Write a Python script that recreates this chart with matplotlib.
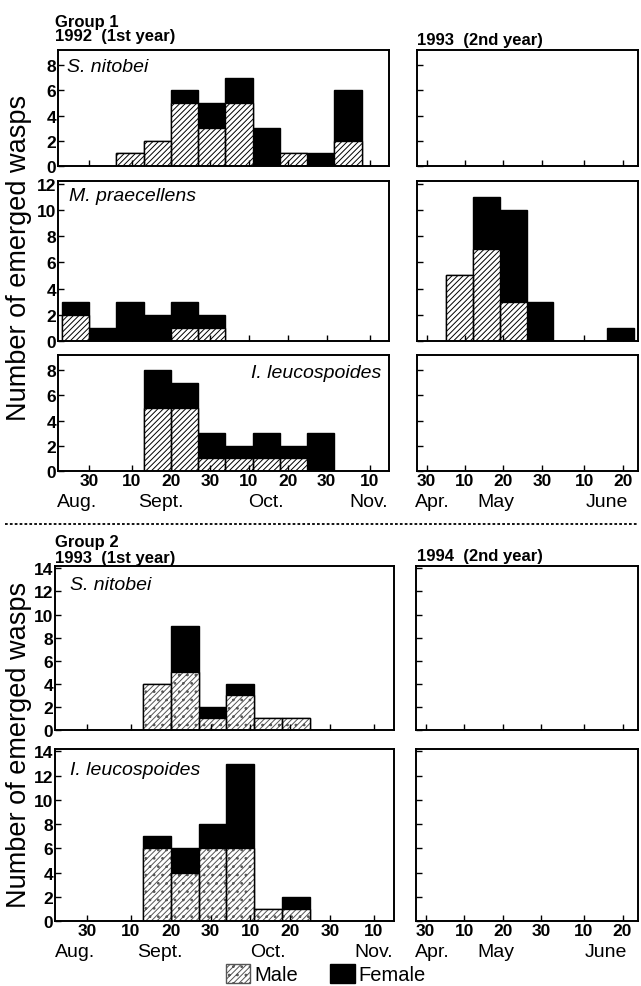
import matplotlib
matplotlib.use("Agg")
import matplotlib.pyplot as plt
from matplotlib.patches import Patch
from matplotlib.lines import Line2D

plt.rcParams['font.family'] = ['Liberation Sans', 'DejaVu Sans']
plt.rcParams['hatch.linewidth'] = 0.7

# x = days after Aug 30 (1st year) or after Apr 30 (2nd year), bars are 7-day bins
g1_nit_days = [7, 14, 21, 28, 35, 42, 49, 56, 63]
g1_nit_male = [1, 2, 5, 3, 5, 0, 1, 0, 2]
g1_nit_female = [0, 0, 1, 2, 2, 3, 0, 1, 4]

g1_mpr_days = [-7, 0, 7, 14, 21, 28]
g1_mpr_male = [2, 0, 0, 0, 1, 1]
g1_mpr_female = [1, 1, 3, 2, 2, 1]

g1_mpr2_days = [5, 12, 19, 26, 47]
g1_mpr2_male = [5, 7, 3, 0, 0]
g1_mpr2_female = [0, 4, 7, 3, 1]

g1_leu_days = [14, 21, 28, 35, 42, 49, 56]
g1_leu_male = [5, 5, 1, 1, 1, 1, 0]
g1_leu_female = [3, 2, 2, 1, 2, 1, 3]

g2_nit_days = [14, 21, 28, 35, 42, 49]
g2_nit_male = [4, 5, 1, 3, 1, 1]
g2_nit_female = [0, 4, 1, 1, 0, 0]

g2_leu_days = [14, 21, 28, 35, 42, 49]
g2_leu_male = [6, 4, 6, 6, 1, 1]
g2_leu_female = [1, 2, 2, 7, 0, 1]

autumn_ticks = [0, 11, 21, 31, 41, 51, 61, 72]
autumn_labels = ['30', '10', '20', '30', '10', '20', '30', '10']
autumn_months = [(-3, 'Aug.'), (18.3, 'Sept.'), (45.4, 'Oct.'), (71.8, 'Nov.')]
spring_ticks = [0, 10, 20, 30, 41, 51]
spring_labels = ['30', '10', '20', '30', '10', '20']
spring_months = [(1.6, 'Apr.'), (18.1, 'May'), (46.8, 'June')]

W, H = 641, 987
fig = plt.figure(figsize=(W / 100, H / 100), dpi=100)


def box(x0, x1, y0, y1):
    return fig.add_axes([x0 / W, 1 - y1 / H, (x1 - x0) / W, (y1 - y0) / H])


def style(ax, ymax, yticks, autumn, ylab, xlab):
    ax.set_ylim(0, ymax)
    if autumn:
        ax.set_xlim(-8, 77)
        ax.set_xticks(autumn_ticks)
        labs, months = autumn_labels, autumn_months
    else:
        ax.set_xlim(-2.5, 55)
        ax.set_xticks(spring_ticks)
        labs, months = spring_labels, spring_months
    ax.set_yticks(yticks)
    ax.tick_params(direction='in', length=4, width=1, labelsize=12.5, pad=1.5)
    for s in ax.spines.values():
        s.set_linewidth(1.4)
    if ylab:
        ax.set_yticklabels([str(v) for v in yticks], fontweight='bold')
    else:
        ax.set_yticklabels([])
    if xlab:
        ax.set_xticklabels(labs, fontweight='bold')
        for d, m in months:
            ax.annotate(m, xy=(d, 0), xycoords=('data', 'axes fraction'), xytext=(0, -16),
                        textcoords='offset points', ha='center', va='top', fontsize=14)
    else:
        ax.set_xticklabels([])


def bars(ax, days, male, female, group2=False):
    tot = [m + f for m, f in zip(male, female)]
    ax.bar(days, tot, width=7, align='edge', color='black', edgecolor='black', lw=1)
    if group2:
        ax.bar(days, male, width=7, align='edge', color='white', edgecolor='#555555',
               hatch='//////..', lw=0)
    else:
        ax.bar(days, male, width=7, align='edge', color='white', edgecolor='black',
               hatch='//////', lw=0)
    ax.bar(days, male, width=7, align='edge', fill=False, edgecolor='black', lw=1)


def species(ax, x, y, name, ha='left'):
    ax.text(x, y, name, transform=ax.transAxes, ha=ha, va='center', style='italic', fontsize=14)


# Group 1
a = box(58, 389, 51, 167)
bars(a, g1_nit_days, g1_nit_male, g1_nit_female)
style(a, 9.2, [0, 2, 4, 6, 8], True, True, False)
species(a, 0.026, 0.86, 'S. nitobei')
b = box(417, 638, 51, 167)
style(b, 9.2, [0, 2, 4, 6, 8], False, False, False)

a = box(58, 389, 182, 342)
bars(a, g1_mpr_days, g1_mpr_male, g1_mpr_female)
style(a, 12.2, [0, 2, 4, 6, 8, 10, 12], True, True, False)
species(a, 0.033, 0.91, 'M. praecellens')
b = box(417, 638, 182, 342)
bars(b, g1_mpr2_days, g1_mpr2_male, g1_mpr2_female)
style(b, 12.2, [0, 2, 4, 6, 8, 10, 12], False, False, False)

a = box(58, 389, 356, 472)
bars(a, g1_leu_days, g1_leu_male, g1_leu_female)
style(a, 9.2, [0, 2, 4, 6, 8], True, True, True)
species(a, 0.978, 0.85, 'I. leucospoides', ha='right')
b = box(417, 638, 356, 472)
style(b, 9.2, [0, 2, 4, 6, 8], False, False, True)

# Group 2
a = box(55, 394, 567, 731)
bars(a, g2_nit_days, g2_nit_male, g2_nit_female, True)
style(a, 14.2, list(range(0, 15, 2)), True, True, False)
species(a, 0.044, 0.89, 'S. nitobei')
b = box(416, 638, 567, 731)
style(b, 14.2, list(range(0, 15, 2)), False, False, False)

a = box(55, 394, 750, 922)
bars(a, g2_leu_days, g2_leu_male, g2_leu_female, True)
style(a, 14.2, list(range(0, 15, 2)), True, True, True)
species(a, 0.044, 0.88, 'I. leucospoides')
b = box(416, 638, 750, 922)
style(b, 14.2, list(range(0, 15, 2)), False, False, True)

# headers
hdr = dict(ha='left', va='center', fontsize=12, fontweight='bold')
fig.text(55 / W, 1 - 22 / H, 'Group 1', **hdr)
fig.text(55 / W, 1 - 37 / H, '1992  (1st year)', **hdr)
fig.text(417 / W, 1 - 40 / H, '1993  (2nd year)', **hdr)
fig.text(55 / W, 1 - 542 / H, 'Group 2', **hdr)
fig.text(55 / W, 1 - 558 / H, '1993  (1st year)', **hdr)
fig.text(417 / W, 1 - 556 / H, '1994  (2nd year)', **hdr)

fig.text(19 / W, 1 - 258 / H, 'Number of emerged wasps', rotation=90, ha='center', va='center', fontsize=19.5)
fig.text(19 / W, 1 - 745 / H, 'Number of emerged wasps', rotation=90, ha='center', va='center', fontsize=19.5)

fig.add_artist(Line2D([5 / W, 638 / W], [1 - 525 / H] * 2, transform=fig.transFigure,
                      ls=(0, (1.5, 1.2)), lw=1.3, color='black'))

handles = [Patch(facecolor='white', edgecolor='#555555', hatch='//////..', lw=1),
           Patch(facecolor='black', edgecolor='black')]
fig.legend(handles, ['Male', 'Female'], loc='center', bbox_to_anchor=(326 / W, 1 - 975 / H),
           ncol=2, frameon=False, fontsize=14.5, handlelength=1.2, handleheight=1.1,
           handletextpad=0.2, columnspacing=1.6)

fig.savefig('out.png', dpi=100)
